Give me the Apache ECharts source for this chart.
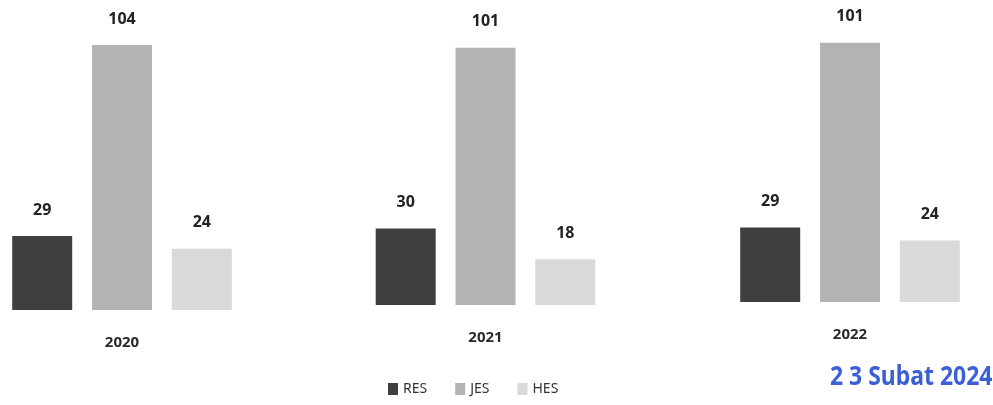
<!DOCTYPE html>
<html><head><meta charset="utf-8">
<script src="https://cdn.jsdelivr.net/npm/echarts@6/dist/echarts.min.js"></script>
<style>html,body{margin:0;padding:0;background:#fff}#c{width:993px;height:405px}</style>
</head><body><div id="c"></div>
<script>
const categories = ['2020', '2021', '2022'];
const seriesNames = ['RES', 'JES', 'HES'];
const resValues = [29, 30, 29];
const jesValues = [104, 101, 101];
const hesValues = [24, 18, 24];
const stampText = '2 3 Subat 2024';

const colors = ['#3f3f3f', '#b3b3b3', '#d9d9d9'];
const grids = [
  {left: 12, width: 220, top: 45, bottom: 95},
  {left: 374, width: 223, top: 40, bottom: 100},
  {left: 738, width: 224, top: 35, bottom: 103}
];
const values = [resValues, jesValues, hesValues];

const chart = echarts.init(document.getElementById('c'));
const xAxis = [], yAxis = [], series = [];
categories.forEach((cat, i) => {
  xAxis.push({type: 'category', gridIndex: i, data: [cat],
    axisLine: {show: false}, axisTick: {show: false},
    axisLabel: {margin: 25, fontSize: 15, fontWeight: 'bold', color: '#2a2a2a', fontFamily: 'Noto Sans'}});
  yAxis.push({type: 'value', gridIndex: i, min: 0, max: 104, show: false, splitLine: {show: false}});
  seriesNames.forEach((name, s) => {
    series.push({name, type: 'bar', xAxisIndex: i, yAxisIndex: i,
      data: [values[s][i]], barWidth: 60, barGap: '33%', barCategoryGap: '0%',
      itemStyle: {color: colors[s]},
      label: {show: true, position: 'top', distance: 18, fontSize: 16, fontWeight: 'bold',
        color: '#222', fontFamily: 'Noto Sans'}});
  });
});

chart.setOption({
  animation: false,
  color: colors,
  grid: grids,
  xAxis, yAxis, series,
  legend: {data: seriesNames, left: 383, bottom: 4, icon: 'rect', itemWidth: 10, itemHeight: 12,
    itemGap: 28, textStyle: {fontSize: 14, color: '#333', fontFamily: 'Noto Sans'}},
  graphic: [{type: 'text', x: 830, y: 364, scaleX: 0.85,
    style: {text: stampText, fill: '#3b5fd6', fontSize: 27, fontWeight: 'bold', fontFamily: 'Noto Sans'}}]
});
</script></body></html>
